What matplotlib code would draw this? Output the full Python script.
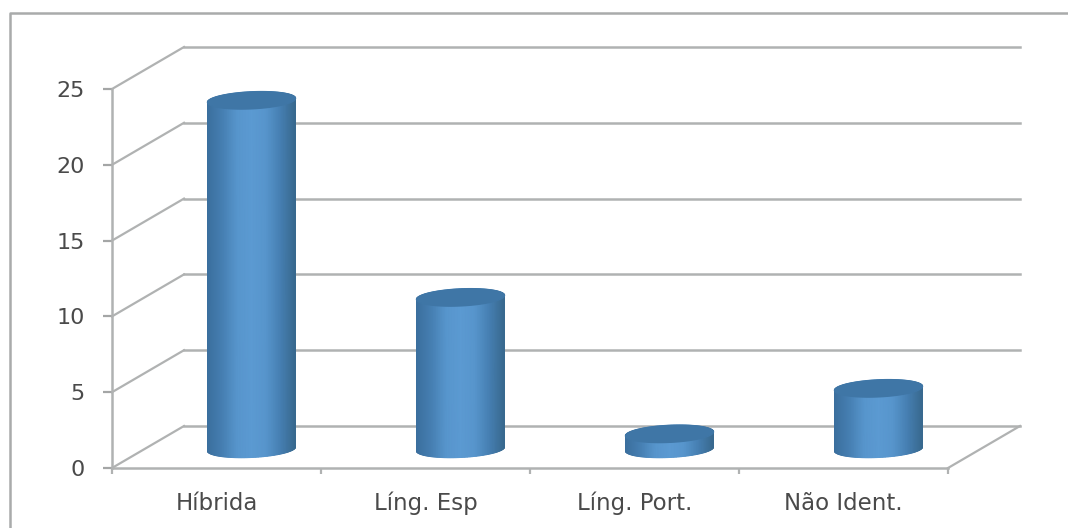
import matplotlib
matplotlib.use("Agg")
import matplotlib.pyplot as plt
import numpy as np
from matplotlib.colors import LinearSegmentedColormap

categories = ["Híbrida", "Líng. Esp", "Líng. Port.", "Não Ident."]
values = [23, 10, 1, 4]
yticks = [0, 5, 10, 15, 20, 25]

W, H = 1068, 528
GRID = "#b0b2b2"
TEXT = "#4a4a4a"

fig = plt.figure(figsize=(W / 100, H / 100), dpi=100)
left, right, bottom, top = 112, 948, 468, 89
ax = fig.add_axes([left / W, 1 - bottom / H, (right - left) / W, (bottom - top) / H])
ax.set_xlim(-0.5, 3.5)
ax.set_ylim(0, 25)

px_x = (right - left) / 4
px_y = (bottom - top) / 25
depth_x = 72 / px_x
depth_y = 42 / px_y

# chart border, only the top and left edges are in frame
ax.plot([10 / W, 10 / W, 1], [0, 1 - 13 / H, 1 - 13 / H], transform=fig.transFigure,
        color="#a9abab", lw=1.8, clip_on=False, zorder=1)

# floor and back wall lines
for v in yticks:
    ax.plot([-0.5, -0.5 + depth_x], [v, v + depth_y], color=GRID, lw=1.6, clip_on=False, zorder=1)
    ax.plot([-0.5 + depth_x, 3.5 + depth_x], [v + depth_y, v + depth_y], color=GRID, lw=1.8,
            clip_on=False, zorder=1)
ax.plot([3.5, 3.5 + depth_x], [0, depth_y], color=GRID, lw=1.6, clip_on=False, zorder=1)

ramp = LinearSegmentedColormap.from_list("cyl", ["#3b6f9e", "#467fb2", "#5795cc", "#5b9ad2", "#5795cc", "#467fb2", "#38698f"])

# half width, ellipse height and tilt of the cylinders
a = 44 / px_x
b = 8.5 / px_y
k = 2 / px_y
t = np.linspace(0, 2 * np.pi, 120)
s = np.linspace(np.pi, 2 * np.pi, 90)

for i, v in enumerate(values):
    cx = i + 35 / px_x
    base = 19 / px_y
    # side of the cylinder as a shaded strip between the two rims
    xs = cx + a * np.cos(s)
    low = base + b * np.sin(s) + k * np.cos(s)
    high = base + v - b * np.sin(s) + k * np.cos(s)
    shade = (xs - xs.min()) / (xs.max() - xs.min())
    ax.pcolormesh(np.vstack([xs, xs]), np.vstack([low, high]), np.vstack([shade, shade]),
                  shading="gouraud", cmap=ramp, vmin=0, vmax=1, zorder=3)
    ax.fill(cx + a * np.cos(t), base + v + b * np.sin(t) + k * np.cos(t), color="#3f76a6",
            zorder=4, clip_on=False)

ax.set_xlim(-0.5, 3.5)
ax.set_ylim(0, 25)

ax.set_yticks(yticks)
ax.set_xticks(np.arange(5) - 0.5, minor=False)
ax.set_xticklabels([])
ax.set_xticks(range(4), labels=categories, minor=True)
ax.tick_params(axis="y", which="major", left=True, length=6.5, width=1.6, color="#a4a6a6",
               labelcolor=TEXT, labelsize=16, pad=13)
ax.tick_params(axis="x", which="major", length=4, width=1.6, color=GRID)
ax.tick_params(axis="x", which="minor", length=0, labelcolor=TEXT, labelsize=16.5, pad=17)
for name in ("top", "right"):
    ax.spines[name].set_visible(False)
for name in ("left", "bottom"):
    ax.spines[name].set_color(GRID)
    ax.spines[name].set_linewidth(1.8)
ax.patch.set_alpha(0)

fig.savefig("out.png", dpi=100)
